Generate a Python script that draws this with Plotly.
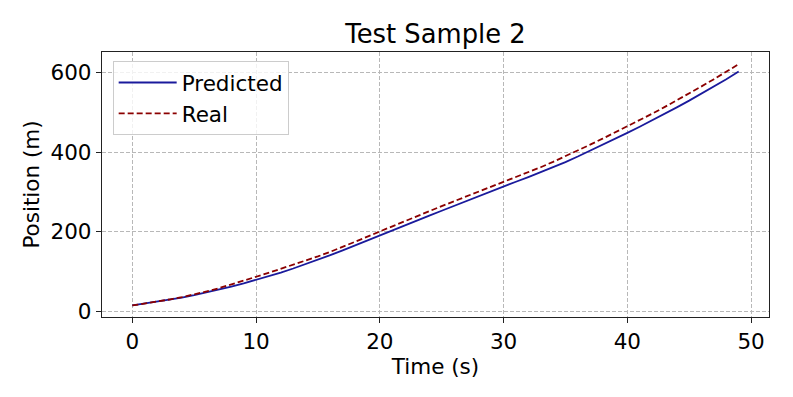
import plotly.graph_objects as go

time_s = list(range(50))
predicted = [14.5, 19.0, 23.7, 28.7, 34.1, 40.3, 47.0, 54.2, 61.9, 70.1,
             78.7, 87.7, 97.3, 107.5, 118.2, 129.4, 141.0, 152.9, 165.1, 177.5,
             190.0, 202.5, 215.1, 227.7, 240.3, 252.8, 265.2, 277.5, 289.7, 301.8,
             313.8, 325.7, 337.5, 349.4, 361.9, 375.1, 389.1, 403.6, 418.4, 433.4,
             448.6, 464.1, 479.9, 496.1, 512.7, 529.7, 547.2, 565.2, 583.7, 602.7]
real = [14.5, 19.1, 24.1, 29.5, 35.3, 42.1, 49.7, 58.0, 67.0, 76.6,
        86.7, 96.5, 106.5, 116.7, 127.1, 137.9, 149.4, 161.6, 174.4, 187.5,
        200.7, 213.7, 226.5, 239.2, 251.8, 264.3, 276.6, 288.6, 300.5, 312.4,
        324.4, 336.6, 349.2, 362.2, 375.7, 389.7, 404.2, 419.0, 434.0, 449.2,
        464.7, 480.5, 496.7, 513.3, 530.3, 547.7, 565.5, 583.7, 602.3, 621.3]
x_ticks = [0, 10, 20, 30, 40, 50]
y_ticks = [0, 200, 400, 600]

FONT = "DejaVu Sans"
fig = go.Figure()
fig.add_trace(go.Scatter(x=time_s, y=predicted, mode="lines", name="Predicted",
                         line=dict(color="#1a1a9c", width=1.8)))
fig.add_trace(go.Scatter(x=time_s, y=real, mode="lines", name="Real",
                         line=dict(color="#8b0000", width=1.8, dash="6px,3px")))

axis_common = dict(showline=True, mirror=True, linecolor="#222222", linewidth=1.3,
                   ticks="outside", ticklen=5, tickwidth=1.2, tickcolor="#222222",
                   showgrid=True, gridcolor="#b8b8b8", gridwidth=1, griddash="4px,2px",
                   zeroline=False, tickfont=dict(size=21.5, color="black", family=FONT))

fig.update_xaxes(range=[-2.45, 51.45], tickvals=x_ticks,
                 title=dict(text="Time (s)", font=dict(size=21.5, color="black", family=FONT), standoff=2),
                 **axis_common)
fig.update_yaxes(range=[-14.5, 652], tickvals=y_ticks,
                 title=dict(text="Position (m)", font=dict(size=21.5, color="black", family=FONT), standoff=4),
                 **axis_common)

fig.update_layout(
    width=793, height=397,
    margin=dict(l=102, r=24, t=52, b=80, autoexpand=False),
    paper_bgcolor="white", plot_bgcolor="white",
    font=dict(family=FONT, color="black"),
    title=dict(text="Test Sample 2", font=dict(size=25.8, color="black", family=FONT),
               x=0.5, xref="paper", xanchor="center", y=1 - 34 / 397, yref="container", yanchor="middle"),
    legend=dict(x=0.016, y=0.966, xanchor="left", yanchor="top",
                bgcolor="rgba(255,255,255,0.8)", bordercolor="#cccccc", borderwidth=1,
                font=dict(size=21.5, color="black", family=FONT), tracegroupgap=0,
                itemwidth=58),
    showlegend=True,
)

fig.write_html("out.html", config={"displayModeBar": False},
               post_script="document.body.style.margin='0px';document.body.style.padding='0px';")
